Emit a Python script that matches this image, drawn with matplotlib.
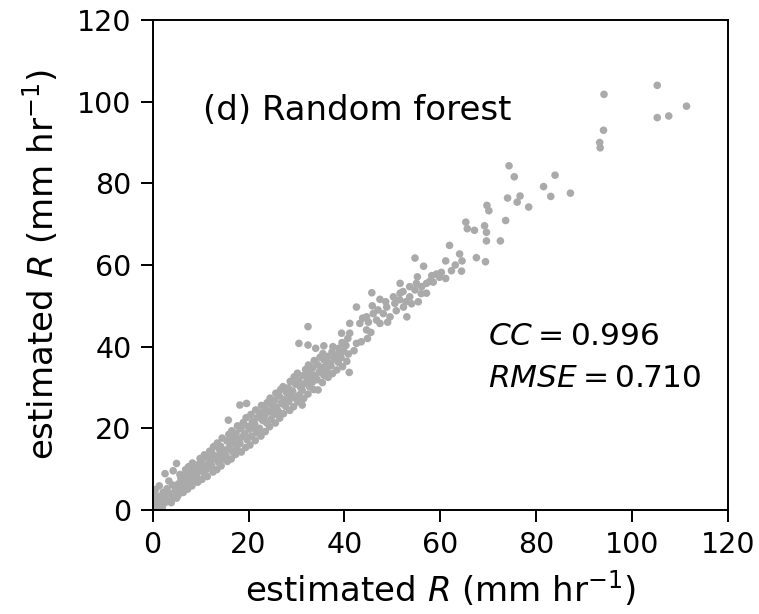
import matplotlib
matplotlib.use("Agg")
import matplotlib.pyplot as plt

# observed vs estimated rain rate, read off the panel
# near origin
obs_low = [0.2, 0.4, 0.3, 0.5, 0.8, 1.0, 1.2, 1.5, 1.8, 2.0, 2.2, 0.6,
           2.5, 2.8, 3.0, 3.3, 3.6, 3.9, 4.2, 4.4, 4.8, 5.0, 1.4, 3.4,
           2.6, 4.3, 5.0]
est_low = [0.3, 1.2, 2.6, 3.8, 0.6, 2.0, 3.3, 1.0, 2.5, 0.5, 4.3, 5.0,
           1.7, 3.1, 5.2, 2.2, 4.1, 1.8, 6.1, 3.2, 4.9, 2.9, 5.9, 7.1,
           8.9, 9.6, 11.4]

# dense band 5-20
obs_mid = [5.3, 5.6, 5.4, 5.9, 5.7, 6.4, 6.2, 6.7, 6.5, 6.9,
           7.3, 7.6, 7.4, 7.8, 7.5, 8.2, 8.6, 8.4, 8.8, 8.3,
           9.4, 9.2, 9.7, 9.5, 9.9, 10.3, 10.7, 10.5, 10.2, 10.8,
           11.4, 11.2, 11.7, 11.5, 11.9, 12.6, 12.3, 12.8, 12.4, 12.7,
           13.4, 13.7, 13.3, 13.9, 13.5, 14.3, 14.6, 14.8, 14.2, 14.5,
           15.6, 15.3, 15.8, 15.5, 15.9, 16.4, 16.7, 16.2, 16.8, 16.5,
           17.3, 17.6, 17.8, 17.4, 17.7, 18.5, 18.2, 18.8, 18.4, 18.9,
           19.4, 19.7, 19.2, 19.8, 19.5, 15.8, 18.2, 19.6,
           6.0, 8.0, 10.0, 12.0, 14.0, 16.0, 18.0, 11.0, 15.0, 17.0]
est_mid = [3.5, 5.1, 6.4, 7.8, 8.7, 4.3, 5.9, 7.1, 8.5, 9.9,
           5.1, 6.5, 7.7, 9.2, 10.6, 5.9, 7.4, 8.8, 10.3, 11.5,
           6.8, 8.2, 9.5, 11.1, 12.6, 7.5, 9.1, 10.6, 12.0, 13.5,
           8.2, 9.9, 11.4, 12.8, 14.4, 9.3, 10.8, 12.5, 13.9, 15.5,
           9.9, 11.7, 13.1, 14.9, 16.4, 10.8, 12.5, 14.2, 15.6, 17.6,
           11.9, 13.4, 15.0, 16.9, 18.5, 12.5, 14.3, 15.9, 17.6, 19.4,
           13.6, 15.2, 17.1, 18.8, 20.6, 14.2, 16.3, 18.0, 19.9, 21.4,
           15.3, 17.2, 18.7, 20.5, 22.6, 22.0, 25.7, 26.1,
           6.6, 8.1, 11.3, 11.6, 13.6, 17.0, 17.2, 10.4, 14.6, 16.6]

# dense band 20-41
obs_upper = [20.3, 20.6, 20.2, 20.8, 20.5, 21.4, 21.7, 21.3, 21.8, 21.5,
             22.6, 22.3, 22.8, 22.4, 22.7, 23.5, 23.8, 23.3, 23.6, 23.9,
             24.4, 24.7, 24.2, 24.8, 24.5, 25.6, 25.3, 25.8, 25.4, 25.7,
             26.5, 26.2, 26.8, 26.4, 26.7, 27.3, 27.7, 27.5, 27.9, 27.2,
             28.6, 28.4, 28.8, 28.3, 28.7, 29.4, 29.7, 29.2, 29.8, 29.5,
             30.3, 30.6, 30.8, 30.4, 30.2, 31.5, 31.2, 31.7, 31.4, 31.9,
             32.4, 32.7, 32.3, 32.8, 32.5, 33.6, 33.3, 33.8, 33.4, 33.7,
             34.5, 34.3, 34.8, 34.4, 34.9, 35.4, 35.7, 35.2, 35.8, 35.5,
             36.6, 36.3, 36.8, 36.4, 37.5, 37.2, 37.8, 37.4,
             38.4, 38.7, 38.3, 38.8, 39.6, 39.3, 39.8, 39.5,
             41.0, 40.5, 40.8, 40.3, 40.7,
             30.5, 32.4, 34.0, 35.7, 32.4, 31.2,
             21.0, 23.0, 25.0, 27.0, 29.0, 31.0, 33.0, 35.0, 37.0, 39.0,
             22.0, 26.0, 30.0, 34.0, 38.0, 36.0]
est_upper = [15.9, 18.1, 19.8, 21.7, 23.4, 17.0, 18.9, 21.0, 22.6, 24.5,
             18.1, 20.0, 22.2, 23.8, 25.6, 19.2, 21.3, 22.9, 24.6, 26.3,
             20.4, 22.2, 24.0, 25.8, 27.4, 21.3, 23.4, 25.1, 26.8, 28.6,
             22.5, 24.2, 26.2, 27.9, 29.5, 23.6, 25.4, 27.1, 28.8, 30.2,
             24.4, 26.6, 28.0, 29.9, 31.5, 25.3, 27.4, 29.1, 30.8, 32.6,
             26.5, 28.2, 30.1, 31.8, 33.5, 27.3, 29.3, 31.0, 32.9, 34.4,
             28.4, 30.2, 32.2, 33.6, 35.5, 29.5, 31.3, 33.0, 34.8, 36.6,
             29.4, 31.9, 33.8, 35.6, 37.4, 31.2, 33.0, 34.9, 36.7, 38.3,
             32.5, 34.1, 36.0, 37.6, 33.4, 35.3, 37.1, 38.7,
             34.3, 36.2, 38.0, 39.6, 35.1, 37.3, 38.9, 41.0,
             33.7, 36.4, 38.2, 40.3, 42.0,
             40.8, 40.4, 39.6, 40.2, 44.9, 25.7,
             20.1, 21.9, 24.2, 26.0, 28.1, 30.2, 31.9, 34.1, 35.8, 38.1,
             19.3, 23.7, 27.6, 32.6, 36.9, 35.1]

# thinner band 40-65
obs_high = [41.1, 41.1, 39.4, 39.7, 42.5, 37.6, 42.0, 43.5, 44.8, 45.5,
            42.5, 43.2, 44.6, 44.6, 46.0, 46.7, 47.4, 48.1, 49.5, 45.7,
            47.4, 48.8, 50.2, 50.5, 51.6, 51.6, 52.3, 53.0, 53.6, 53.6,
            54.7, 55.4, 57.1, 56.1, 57.1, 58.2, 59.2, 60.2, 61.1, 55.2,
            56.5, 54.7, 43.8, 45.0, 45.8, 47.0, 48.6, 49.0, 50.8, 51.5,
            52.8, 52.2, 54.0, 55.0, 56.0, 57.8, 58.5, 59.8, 62.3, 63.1,
            64.4, 61.1, 64.5, 69.4]
est_high = [43.3, 45.7, 43.3, 40.8, 40.8, 40.0, 39.0, 41.2, 42.0, 43.5,
            49.7, 45.7, 44.1, 47.3, 48.1, 46.5, 45.7, 48.1, 47.3, 53.2,
            51.6, 49.7, 52.2, 50.6, 53.1, 55.5, 49.7, 47.3, 54.7, 52.2,
            53.9, 51.0, 53.1, 54.7, 55.5, 57.4, 57.8, 58.2, 56.7, 57.1,
            59.7, 61.7, 47.0, 46.0, 50.0, 49.0, 51.0, 46.0, 48.8, 51.5,
            51.0, 53.5, 50.5, 55.5, 53.0, 56.0, 55.8, 57.0, 58.6, 60.0,
            58.5, 61.0, 61.0, 60.8]

# sparse top end
obs_top = [105.2, 94.1, 111.3, 105.2, 107.6, 94.0, 93.2, 93.3, 74.3, 75.4,
           83.9, 81.5, 83.0, 87.1, 74.0, 76.6, 76.0, 78.4, 69.7, 70.1,
           73.6, 65.3, 65.6, 67.1, 69.2, 69.6, 69.6, 72.5, 61.9, 64.0,
           67.5]
est_top = [104.0, 101.8, 98.9, 96.1, 96.5, 93.0, 90.0, 88.7, 84.3, 81.6,
           82.0, 79.2, 76.8, 77.6, 76.4, 76.9, 75.4, 74.2, 74.6, 73.3,
           70.9, 70.5, 68.9, 68.5, 69.6, 68.0, 65.9, 65.9, 64.8, 62.7,
           61.8]

obs_r = obs_low + obs_mid + obs_upper + obs_high + obs_top
est_r = est_low + est_mid + est_upper + est_high + est_top

fig = plt.figure(figsize=(7.59, 6.14), dpi=100)
ax = fig.add_axes([0.201, 0.1694, 0.7585, 0.798])

ax.scatter(obs_r, est_r, s=30, c="#aaaaaa", edgecolors="none")

ax.set_xlim(0, 120)
ax.set_ylim(0, 120)
ax.set_xticks([0, 20, 40, 60, 80, 100, 120])
ax.set_yticks([0, 20, 40, 60, 80, 100, 120])
ax.tick_params(labelsize=20.5, length=8.5, width=1.4, pad=6.5)
for sp in ax.spines.values():
    sp.set_linewidth(1.4)

ax.set_xlabel(r"estimated $R$ (mm hr$^{-1}$)", fontsize=24.5, labelpad=7)
ax.set_ylabel(r"estimated $R$ (mm hr$^{-1}$)", fontsize=24.5, labelpad=12)

ax.text(0.087, 0.815, "(d) Random forest", transform=ax.transAxes,
        fontsize=24.5, va="center")
ax.text(0.583, 0.355, r"$CC = 0.996$", transform=ax.transAxes,
        fontsize=22.5, va="center")
ax.text(0.583, 0.269, r"$RMSE = 0.710$", transform=ax.transAxes,
        fontsize=22.5, va="center")

fig.savefig("out.png", dpi=100)
